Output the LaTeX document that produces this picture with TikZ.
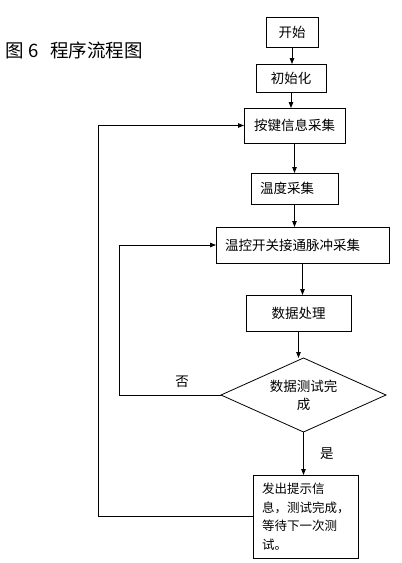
\documentclass[tikz,border=0pt]{standalone}
\usepackage{fontspec}
\newfontfamily\cjk{Noto Sans CJK SC}
\usetikzlibrary{positioning,shapes.geometric,arrows.meta}

\begin{document}
\begin{tikzpicture}[
  x=1pt,y=-1pt,
  every node/.style={font=\cjk\fontsize{13.5}{18}\selectfont},
  proc/.style={draw,line width=0.8pt,inner sep=0pt,outer sep=0pt,align=center},
  lproc/.style={proc,inner xsep=9pt,align=left},
  test/.style={draw,line width=0.8pt,diamond,aspect=2.2,inner sep=0pt,outer sep=0pt,align=center},
  arr/.style={-{Triangle[length=6pt,width=4.5pt]},line width=0.8pt}
]
  \useasboundingbox (0,0) rectangle (402,563);
  \node[anchor=west,font=\cjk\fontsize{18.5}{20}\selectfont] (title) at (2,50)
    {图\hspace{4pt}6\hspace{12pt}程序流程图};

  \node[proc,minimum width=52pt,minimum height=30pt] (start) at (292,32) {开始};
  \node[proc,below=17pt of start,xshift=-1pt,minimum width=70pt,minimum height=28pt] (init) {初始化};
  \node[proc,below=16pt of init,xshift=3.5pt,minimum width=101pt,minimum height=35pt] (key) {按键信息采集};
  \node[lproc,below=30pt of key,text width=69pt,minimum height=31pt] (temp) {温度采集};
  \node[lproc,below=23pt of temp,xshift=8pt,text width=155pt,minimum height=36pt] (switch) {温控开关接通脉冲采集};
  \node[proc,below=32pt of switch,xshift=-4pt,minimum width=105pt,minimum height=36pt] (dproc) {数据处理};
  \node[test,below=27pt of dproc,xshift=5pt,minimum width=165pt,minimum height=74pt] (done) {数据测试完\\成};
  \node[lproc,below=43pt of done,xshift=2pt,text width=87pt,minimum height=83pt,
        font=\cjk\fontsize{12.5}{18.5}\selectfont] (final)
    {发出提示信\\息，测试完成，\\等待下一次测\\试。};

  \draw[arr] (start.south) -- (start.south |- init.north);
  \draw[arr] (init.south) -- (init.south |- key.north);
  \draw[arr] (key.south) -- (key.south |- temp.north);
  \draw[arr] (temp.south) -- (temp.south |- switch.north);
  \draw[arr] (switch.south) -- (switch.south |- dproc.north);
  \draw[arr] (dproc.south) -- (dproc.south |- done.north);
  \draw[arr] (done.south) -- node[right=13pt] {是} (done.south |- final.north);

  % loops back
  \draw[arr] (done.west) -| node[above=4pt,pos=0.19] {否} ([xshift=-97pt]switch.west) -- (switch.west);
  \draw[arr] (final.west) -| ([xshift=-146pt]key.west) -- (key.west);
\end{tikzpicture}
\end{document}
